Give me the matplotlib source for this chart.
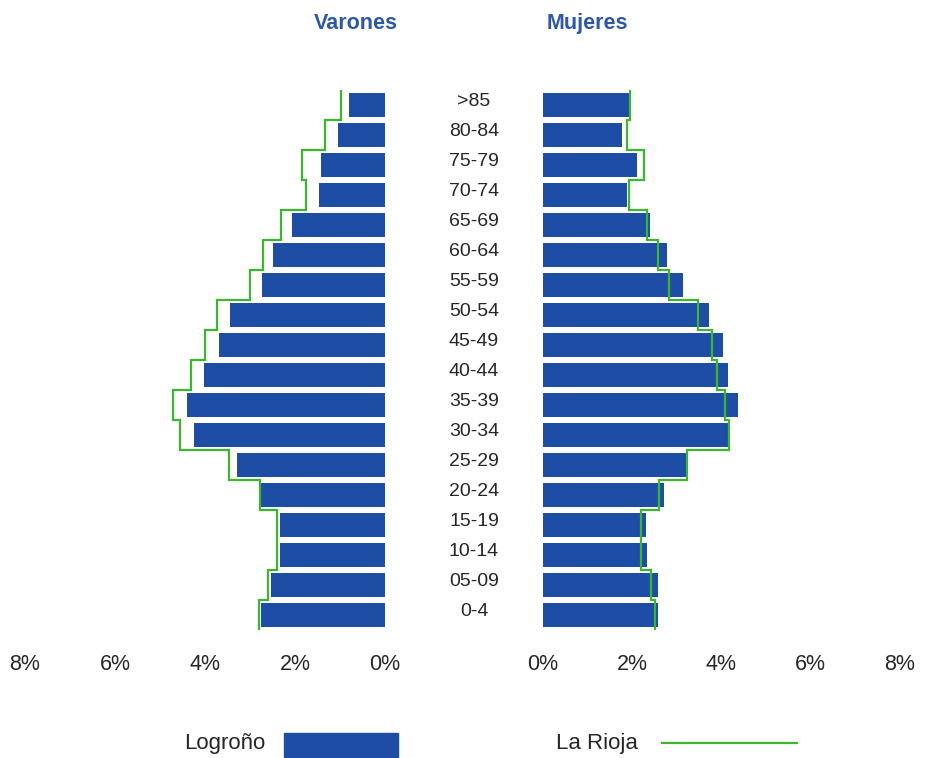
import numpy as np
import matplotlib
matplotlib.use('Agg')
import matplotlib.pyplot as plt
from matplotlib.transforms import blended_transform_factory
from matplotlib.patches import Rectangle
from matplotlib.lines import Line2D

plt.rcParams['font.family'] = ['Liberation Sans', 'DejaVu Sans']

# Age groups, bottom to top
groups = ['0-4', '05-09', '10-14', '15-19', '20-24', '25-29', '30-34', '35-39', '40-44',
          '45-49', '50-54', '55-59', '60-64', '65-69', '70-74', '75-79', '80-84', '>85']

# Percent of population (Logroño = bars, La Rioja = green line)
logrono_varones = [2.76, 2.53, 2.33, 2.33, 2.76, 3.29, 4.24, 4.40, 4.02,
                   3.69, 3.44, 2.73, 2.49, 2.07, 1.47, 1.42, 1.04, 0.80]
rioja_varones = [2.80, 2.60, 2.40, 2.40, 2.78, 3.47, 4.56, 4.71, 4.31,
                 4.00, 3.73, 3.00, 2.71, 2.31, 1.76, 1.84, 1.33, 0.98]
logrono_mujeres = [2.57, 2.57, 2.33, 2.30, 2.71, 3.22, 4.14, 4.38, 4.14,
                   4.03, 3.71, 3.13, 2.77, 2.39, 1.88, 2.10, 1.77, 1.92]
rioja_mujeres = [2.52, 2.42, 2.19, 2.19, 2.60, 3.23, 4.16, 4.07, 3.89,
                 3.78, 3.47, 2.82, 2.57, 2.33, 1.92, 2.26, 1.88, 1.95]

ticks = [0, 2, 4, 6, 8]
tick_labels = ['0%', '2%', '4%', '6%', '8%']

blue = '#1e4da6'
green = '#3cb62e'
title_blue = '#2d58a6'
txt = '#262626'
W, H = 925, 758

fig = plt.figure(figsize=(9.25, 7.58), dpi=100)
y = np.arange(len(groups))
edges = np.arange(len(groups) + 1) - 0.5

ax_l = fig.add_axes([25 / W, 1 - 630 / H, 360 / W, 540 / H])
ax_r = fig.add_axes([543 / W, 1 - 630 / H, 357 / W, 540 / H])

for ax, bars, line in [(ax_l, logrono_varones, rioja_varones),
                       (ax_r, logrono_mujeres, rioja_mujeres)]:
    ax.barh(y, bars, height=0.82, color=blue)
    ax.stairs(line, edges, orientation='horizontal', baseline=None, color=green, linewidth=1.6)
    ax.set_ylim(-0.5, len(groups) - 0.5)
    ax.set_xticks(ticks)
    ax.set_xticklabels(tick_labels)
    ax.set_yticks([])
    ax.tick_params(axis='x', length=0, pad=17, labelsize=15.5, labelcolor=txt)
    for s in ax.spines.values():
        s.set_visible(False)

ax_l.set_xlim(8, 0)
ax_r.set_xlim(0, 8)

# age group labels in the middle (sit a little above bar centres)
tr = blended_transform_factory(fig.transFigure, ax_r.transData)
for yi, g in zip(y, groups):
    ax_r.text(474 / W, yi + 0.13, g, transform=tr, ha='center', va='center',
              fontsize=14, color=txt, clip_on=False)

fig.text(356 / W, 1 - 29 / H, 'Varones', ha='center', va='baseline', fontsize=15.5,
         fontweight='bold', color=title_blue)
fig.text(587 / W, 1 - 29 / H, 'Mujeres', ha='center', va='baseline', fontsize=15.5,
         fontweight='bold', color=title_blue)

# legend
fig.text(225 / W, 1 - 749 / H, 'Logroño', ha='center', va='baseline', fontsize=16, color=txt)
fig.add_artist(Rectangle((284 / W, 1 - 757 / H), 114 / W, 24 / H,
                         transform=fig.transFigure, color=blue))
fig.text(597 / W, 1 - 749 / H, 'La Rioja', ha='center', va='baseline', fontsize=16, color=txt)
fig.add_artist(Line2D([662 / W, 797 / W], [1 - 743 / H, 1 - 743 / H],
                      transform=fig.transFigure, color=green, linewidth=1.6))

fig.savefig('out.png', dpi=100, facecolor='white')
